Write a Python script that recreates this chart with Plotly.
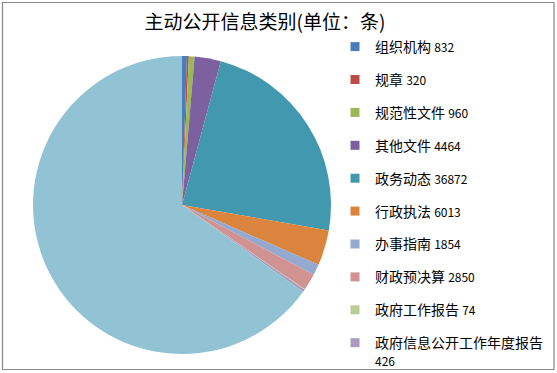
import plotly.graph_objects as go

categories = ["组织机构", "规章", "规范性文件", "其他文件", "政务动态", "行政执法",
              "办事指南", "财政预决算", "政府工作报告", "政府信息公开工作年度报告", "其他"]
values = [832, 320, 960, 4464, 36872, 6013, 1854, 2850, 74, 426, 102000]
legend_count = 10  # the last slice's legend entry is cut off in the reference
colors = ["#4A7EBB", "#BE4B48", "#98B954", "#7D60A0", "#4198AF", "#DB843D",
          "#93A9CF", "#D19392", "#B9CD96", "#A99BBD", "#92C3D4"]
title = "主动公开信息类别(单位：条)"

W, H = 557, 373
fig = go.Figure()

cx, cy, r = 182, 205, 149
fig.add_trace(go.Pie(
    labels=categories, values=values, sort=False, direction="clockwise",
    marker=dict(colors=colors, line=dict(width=0)),
    textinfo="none", hoverinfo="label+value", showlegend=False,
    domain=dict(x=[(cx - r) / W, (cx + r) / W], y=[1 - (cy + r) / H, 1 - (cy - r) / H]),
))

for i in range(legend_count):
    name = categories[i]
    num = f"<span style='font-size:12px'>{values[i]}</span>"
    if len(name) > 10:
        label = f"{name}<br>{num}"
    else:
        label = f"{name} {num}"
    fig.add_trace(go.Scatter(
        x=[None], y=[None], mode="markers", name=label,
        marker=dict(symbol="square", size=9, color=colors[i]),
        legendgroup=f"g{i}", showlegend=True,
    ))

fig.update_layout(
    width=W, height=H,
    margin=dict(l=0, r=0, t=0, b=0, autoexpand=False),
    paper_bgcolor="white", plot_bgcolor="white",
    font=dict(family="Noto Sans CJK SC, sans-serif", color="#000000"),
    title=dict(text=title, x=265 / W, xanchor="center", y=1 - 22 / H, yanchor="middle",
               font=dict(size=19, color="#000000", family="Noto Sans CJK SC, sans-serif")),
    xaxis=dict(visible=False), yaxis=dict(visible=False),
    legend=dict(x=335 / W, xanchor="left", y=1 - 31 / H, yanchor="top",
                font=dict(size=14, color="#000000"), tracegroupgap=11.7,
                valign="top", itemwidth=30, bgcolor="rgba(0,0,0,0)"),
    shapes=[dict(type="rect", xref="paper", yref="paper",
                 x0=2.5 / W, x1=554 / W, y0=1 - 369.5 / H, y1=1 - 2.5 / H,
                 line=dict(color="#878787", width=1.2))],
)

fig.write_html("out.html", config={"displayModeBar": False},
               post_script="document.body.style.margin='0';")
